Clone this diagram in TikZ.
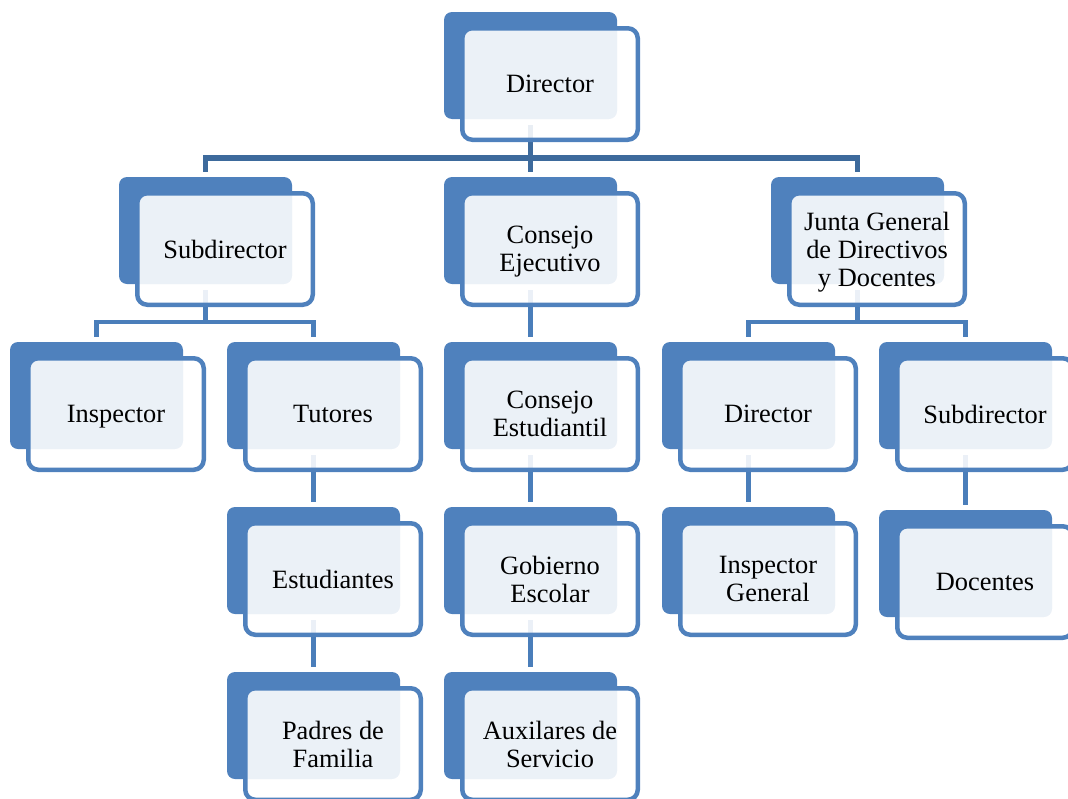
\documentclass[tikz,border=0pt]{standalone}
\usepackage{fontspec}
\setmainfont{Liberation Serif}
\usetikzlibrary{calc}
\definecolor{boxblue}{HTML}{4F81BD}
\definecolor{conntop}{HTML}{3D6A9C}
\definecolor{connlow}{HTML}{4A7EBA}
\pgfdeclarelayer{bg}
\pgfdeclarelayer{mid}
\pgfsetlayers{bg,mid,main}
\newcommand\orgfont{\fontsize{26.4}{28}\selectfont}
\tikzset{
  backfill/.style={fill=boxblue, rounded corners=8pt},
  frontbox/.style={draw=boxblue, line width=4.5pt, rounded corners=10pt,
    fill=white, fill opacity=0.89, text opacity=1, text=black,
    minimum width=175.5pt, minimum height=111.5pt, inner sep=0pt,
    text depth=0pt, align=center, font=\orgfont},
  conna/.style={draw=conntop, line width=5.5pt},
  connb/.style={draw=connlow, line width=4.5pt},
}
\newcommand\orgbox[4]{%
  \begin{pgfonlayer}{mid}
    \fill[backfill] (#2,#3) rectangle ++(173,107);
  \end{pgfonlayer}
  \node[frontbox] (#1) at (#2+106,#3+72) {#4};
  \coordinate (#1-t) at (#2+86.5,#3-5);
  \coordinate (#1-b) at (#2+86.5,#3+113);
}
\begin{document}
\begin{tikzpicture}[x=1pt,y=-1pt]
\useasboundingbox (0,0) rectangle (1068,798);
% level 1
\orgbox{dir}{444}{12}{Director}
% level 2
\orgbox{sub}{119}{177}{Subdirector}
\orgbox{cej}{444}{177}{Consejo\\Ejecutivo}
\orgbox{jun}{771}{177}{Junta General\\de Directivos\\y Docentes}
% level 3
\orgbox{insp}{10}{342}{Inspector}
\orgbox{tut}{227}{342}{Tutores}
\orgbox{cest}{444}{342}{Consejo\\Estudiantil}
\orgbox{dirb}{662}{342}{Director}
\orgbox{subb}{879}{342}{Subdirector}
% level 4
\orgbox{est}{227}{507}{Estudiantes}
\orgbox{gob}{444}{507}{Gobierno\\Escolar}
\orgbox{ig}{662}{507}{Inspector\\General}
\orgbox{doc}{879}{510}{Docentes}
% level 5
\orgbox{pad}{227}{672}{Padres de\\Familia}
\orgbox{aux}{444}{672}{Auxilares de\\Servicio}
% connectors
\begin{pgfonlayer}{bg}
  \draw[conna] (dir-b) -- ++(0,33) -| (sub-t);
  \draw[conna] (dir-b) -- ++(0,33) -| (jun-t);
  \draw[conna] (dir-b) -- (cej-t);
  \draw[connb] (sub-b) -- ++(0,32) -| (insp-t);
  \draw[connb] (sub-b) -- ++(0,32) -| (tut-t);
  \draw[connb] (jun-b) -- ++(0,32) -| (dirb-t);
  \draw[connb] (jun-b) -- ++(0,32) -| (subb-t);
  \draw[connb] (cej-b) -- (cest-t);
  \draw[connb] (cest-b) -- (gob-t);
  \draw[connb] (gob-b) -- (aux-t);
  \draw[connb] (tut-b) -- (est-t);
  \draw[connb] (est-b) -- (pad-t);
  \draw[connb] (dirb-b) -- (ig-t);
  \draw[connb] (subb-b) -- (doc-t);
\end{pgfonlayer}
\end{tikzpicture}
\end{document}
